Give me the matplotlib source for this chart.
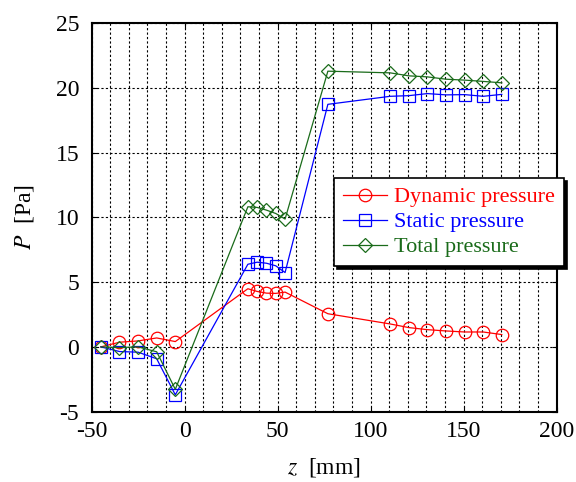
import matplotlib
matplotlib.use("Agg")
import matplotlib.pyplot as plt
from matplotlib.ticker import MultipleLocator

plt.rcParams['font.family'] = ['Liberation Serif', 'DejaVu Serif']
plt.rcParams['mathtext.fontset'] = 'stix'
plt.rcParams['axes.unicode_minus'] = False

# measurement positions along the axis [mm]
z = [-45, -35, -25, -15, -5, 34, 39, 44, 49, 54, 77,
     110.5, 120.5, 130.5, 140.5, 150.5, 160.5, 170.5]

# pressures [Pa]
p_dyn = [0.0, 0.36, 0.46, 0.69, 0.41, 4.49, 4.28, 4.15, 4.13, 4.23, 2.56,
         1.77, 1.49, 1.33, 1.23, 1.15, 1.15, 0.95]
p_stat = [0.0, -0.36, -0.41, -0.92, -3.7, 6.38, 6.54, 6.46, 6.26, 5.74, 18.73,
          19.35, 19.4, 19.56, 19.46, 19.48, 19.35, 19.5]
p_tot = [0.0, -0.05, 0.0, -0.38, -3.28, 10.82, 10.77, 10.56, 10.3, 9.87, 21.29,
         21.16, 20.93, 20.85, 20.67, 20.6, 20.5, 20.39]

fig = plt.figure(figsize=(5.76, 4.82), dpi=100)
ax = fig.add_axes([0.159, 0.146, 0.8075, 0.806])

ms = 9
ax.plot(z, p_dyn, '-o', color='#ff0000', lw=0.9, ms=ms, mfc='none', mew=0.9,
        label='Dynamic pressure')
ax.plot(z, p_stat, '-s', color='#0000ff', lw=0.9, ms=ms, mfc='none', mew=0.9,
        label='Static pressure')
ax.plot(z, p_tot, '-D', color='#1a6b1a', lw=0.9, ms=ms * 0.8, mfc='none', mew=0.9,
        label='Total pressure')

ax.set_xlim(-50, 200)
ax.set_ylim(-5, 25)
ax.xaxis.set_major_locator(MultipleLocator(50))
ax.xaxis.set_minor_locator(MultipleLocator(10))
ax.yaxis.set_major_locator(MultipleLocator(5))
ax.grid(which='both', axis='x', color='black', ls=(0, (2, 2)), lw=0.8)
ax.grid(which='major', axis='y', color='black', ls=(0, (2, 2)), lw=0.8)
ax.tick_params(which='both', direction='in', top=True, right=True, labelsize=17)
ax.tick_params(axis='x', pad=7)
ax.tick_params(axis='y', pad=9)
ax.tick_params(which='minor', length=0)
for s in ax.spines.values():
    s.set_linewidth(1.5)

ax.set_xlabel(r'$z$  [mm]', fontsize=17, labelpad=10)
ax.set_ylabel(r'$P$  [Pa]', fontsize=17, labelpad=14)

leg = ax.legend(loc='upper left', bbox_to_anchor=(0.58, 0.631),
                bbox_transform=fig.transFigure, fontsize=16,
                frameon=True, fancybox=False, edgecolor='black', framealpha=1,
                shadow={'color': 'black', 'alpha': 1},
                handlelength=2.0, handletextpad=0.3, borderpad=0.4,
                labelspacing=0.2, borderaxespad=0)
leg.get_frame().set_linewidth(1.2)
for t, h in zip(leg.get_texts(), leg.legend_handles):
    t.set_color(h.get_color())

fig.savefig('out.png', dpi=100)
